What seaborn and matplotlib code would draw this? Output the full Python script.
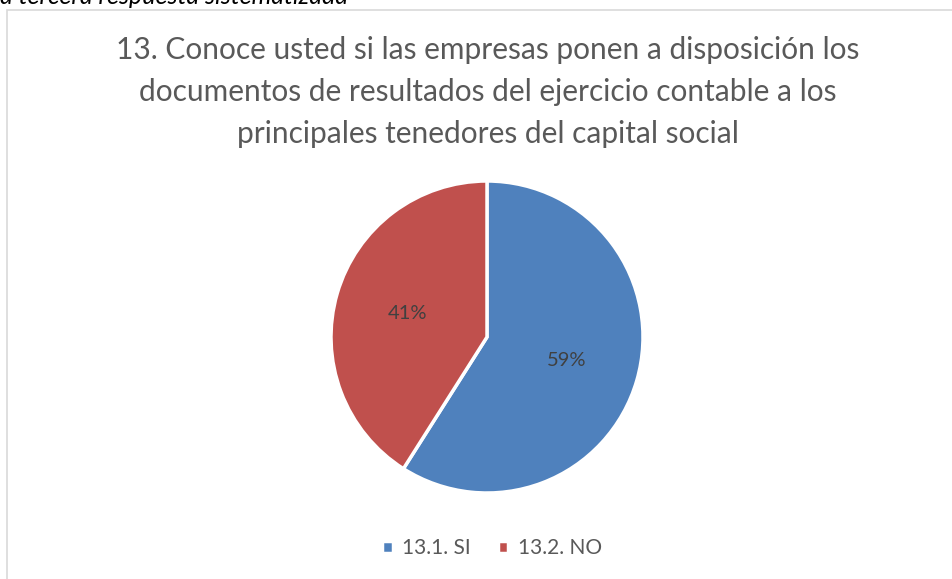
import numpy as np
import pandas as pd
import seaborn as sns
import matplotlib.pyplot as plt
from matplotlib.patches import Rectangle

# data
categorias = ['13.1. SI', '13.2. NO']
porcentajes = [59, 41]
colores = ['#4F81BD', '#C0504D']
titulo = ('13. Conoce usted si las empresas ponen a disposición los\n'
          'documentos de resultados del ejercicio contable a los\n'
          'principales tenedores del capital social')

df = pd.DataFrame({'categoria': categorias, 'valor': porcentajes})

sns.set_theme(style='white')
plt.rcParams['font.family'] = ['Lato', 'DejaVu Sans']

W, H = 953, 579
fig = plt.figure(figsize=(W / 100, H / 100), dpi=100)

# chart border
fig.patches.append(Rectangle((7 / W, -0.1), 1.0, 1 - 10 / H + 0.1,
                             transform=fig.transFigure, fill=False,
                             edgecolor='#D9D9D9', linewidth=1.2))

# caption above the chart (cut by the page edge)
fig.text(0, 1 + 3 / H, 'a tercera respuesta sistematizada', ha='left', va='center',
         fontsize=18, style='italic', color='black')

# pie
cx, cy, r = 487, 337, 156
ax = fig.add_axes([(cx - r) / W, 1 - (cy + r) / H, 2 * r / W, 2 * r / H])
wedges, texts = ax.pie(df['valor'], colors=colores, startangle=90, counterclock=False,
                       radius=1.0, wedgeprops=dict(edgecolor='white', linewidth=2.5))
ax.set_xlim(-1, 1)
ax.set_ylim(-1, 1)
ax.set_aspect('auto')
ax.axis('off')

# percentage labels
ang = np.cumsum([0] + list(df['valor']))
for i, v in enumerate(df['valor']):
    mid = np.deg2rad(90 - (ang[i] + ang[i + 1]) / 2 * 3.6)
    ax.text(0.53 * np.cos(mid), 0.53 * np.sin(mid), f'{v}%', ha='center', va='center',
            fontsize=14.5, color='#404040')

fig.text(488 / W, 1 - 92 / H, titulo, ha='center', va='center', fontsize=21.5,
         color='#595959', linespacing=1.6)

fig.legend(wedges, df['categoria'], loc='center', bbox_to_anchor=(492 / W, 1 - 548 / H),
           ncol=2, frameon=False, fontsize=15, labelcolor='#595959',
           handlelength=0.5, handleheight=0.5, handletextpad=0.45, columnspacing=1.3)

plt.savefig('out.png', dpi=100)
